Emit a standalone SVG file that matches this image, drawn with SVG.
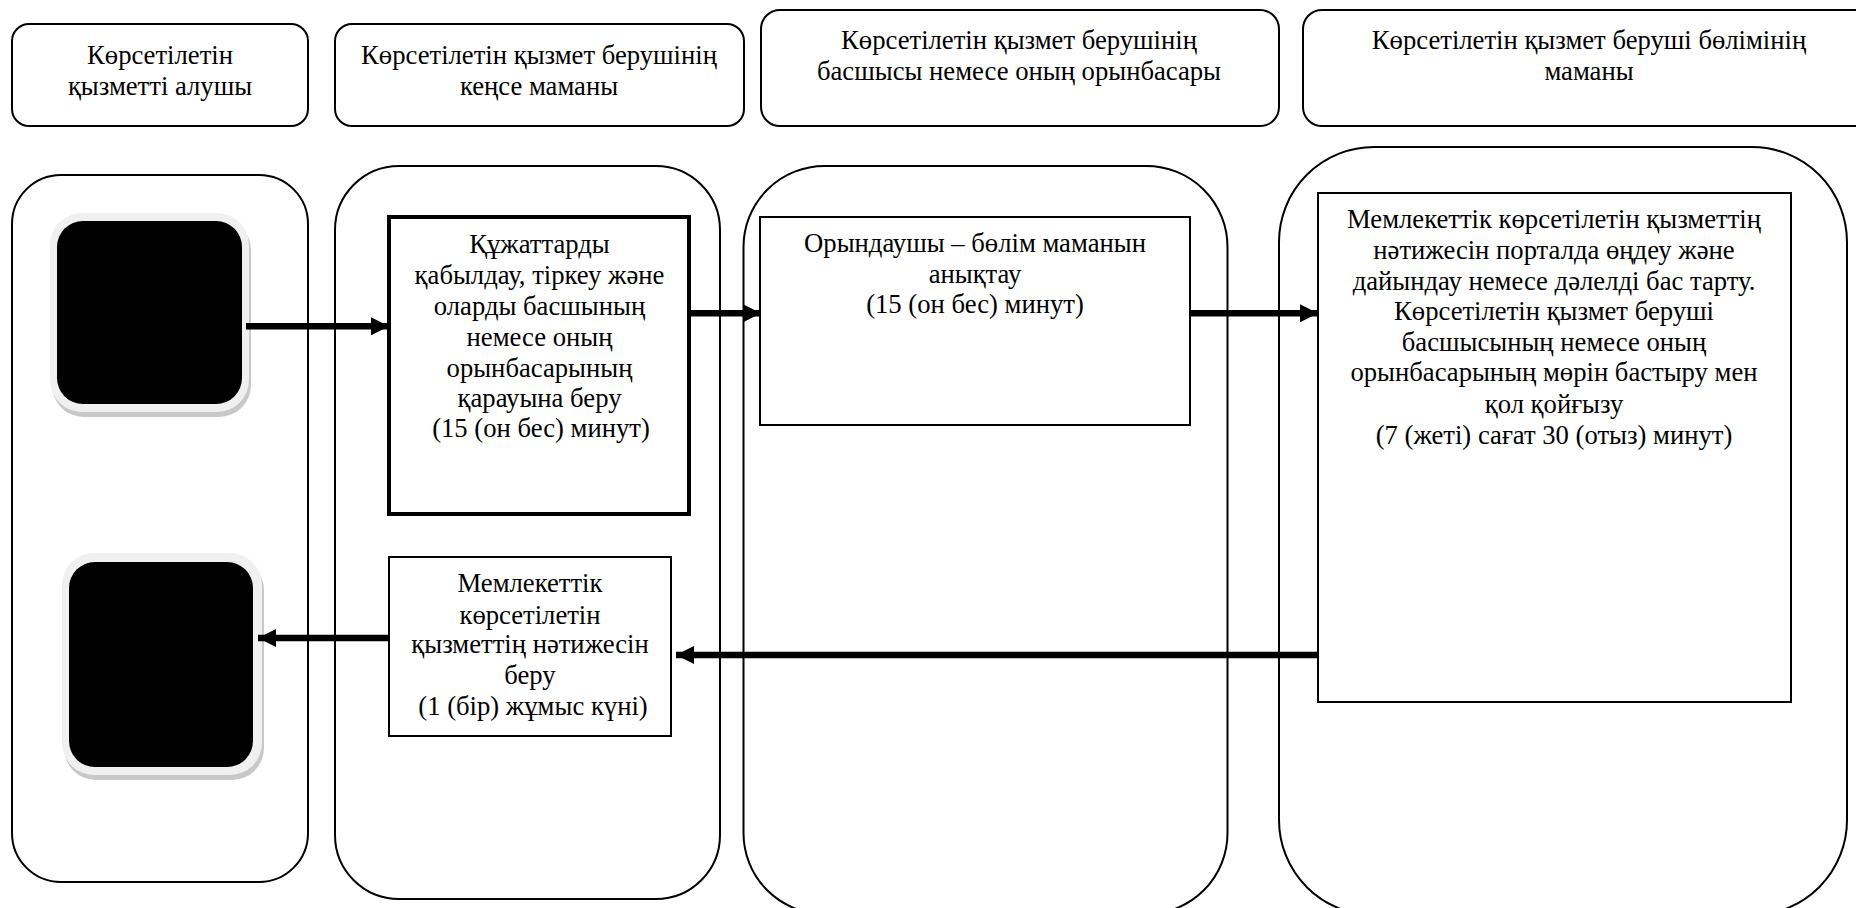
<svg xmlns="http://www.w3.org/2000/svg" width="1856" height="908" viewBox="0 0 1856 908">
<style>
.hd,.ln{fill:#fff;stroke:#000;stroke-width:2}
.b{fill:#fff;stroke:#000;stroke-width:2}
.bt{fill:#fff;stroke:#000;stroke-width:4}
text{font-family:"Liberation Serif","Times New Roman",serif;font-size:26.67px;fill:#000;text-anchor:middle}
.c{fill:none;stroke:#000;stroke-width:6.500}
</style>
<defs>
<marker id="ah" markerUnits="userSpaceOnUse" markerWidth="18" markerHeight="18" refX="18" refY="9" orient="auto"><path d="M0 0L18 9L0 18z" fill="#000"/></marker>
</defs>
<rect width="1856" height="908" fill="#fff"/>
<g id="header-1"><rect class="hd" x="12" y="24" width="296" height="102" rx="17"/><text x="160"><tspan x="160" y="64">Көрсетілетін</tspan><tspan x="160" y="94.500">қызметті алушы</tspan></text></g>
<g id="header-2"><rect class="hd" x="335" y="24" width="409" height="102" rx="17"/><text><tspan x="539" y="64">Көрсетілетін қызмет берушінің</tspan><tspan x="539" y="94.500">кеңсе маманы</tspan></text></g>
<g id="header-3"><rect class="hd" x="761" y="10" width="518" height="116" rx="19"/><text><tspan x="1019" y="49">Көрсетілетін қызмет берушінің</tspan><tspan x="1019" y="80">басшысы немесе оның орынбасары</tspan></text></g>
<g id="header-4"><rect class="hd" x="1303" y="10" width="600" height="116" rx="19"/><text><tspan x="1589" y="49">Көрсетілетін қызмет беруші бөлімінің</tspan><tspan x="1589" y="80">маманы</tspan></text></g>
<g id="lane-1"><rect class="ln" x="12" y="175" width="296" height="707" rx="49"/></g>
<g id="lane-2"><rect class="ln" x="335" y="166" width="385" height="733" rx="64"/></g>
<g id="lane-3"><rect class="ln" x="743.500" y="166" width="484" height="748" rx="81"/></g>
<g id="lane-4"><rect class="ln" x="1279" y="147" width="568" height="768" rx="95"/></g>
<g id="start">
<rect x="52" y="218" width="199" height="199" rx="32" fill="#c8c8c8"/>
<rect x="50" y="213" width="199" height="199" rx="32" fill="#f0f0f0"/>
<rect x="57" y="221" width="185" height="183" rx="26" fill="#000"/>
</g>
<g id="end">
<rect x="64" y="558" width="200" height="222" rx="32" fill="#c8c8c8"/>
<rect x="62" y="553" width="200" height="222" rx="32" fill="#f0f0f0"/>
<rect x="69" y="562" width="184" height="205" rx="26" fill="#000"/>
</g>
<g id="box-receive"><rect class="bt" x="389" y="217" width="300" height="297"/><text><tspan x="539.500" y="253">Құжаттарды</tspan><tspan x="539.500" y="284">қабылдау, тіркеу және</tspan><tspan x="539.500" y="314.500">оларды басшының</tspan><tspan x="539.500" y="345.500">немесе оның</tspan><tspan x="539.500" y="376.500">орынбасарының</tspan><tspan x="539.500" y="407">қарауына беру</tspan><tspan x="541" y="437">(15 (он бес) минут)</tspan></text></g>
<g id="box-assign"><rect class="b" x="760" y="217" width="430" height="208"/><text><tspan x="975" y="252">Орындаушы – бөлім маманын</tspan><tspan x="975" y="283">анықтау</tspan><tspan x="975" y="313">(15 (он бес) минут)</tspan></text></g>
<g id="box-process"><rect class="b" x="1318" y="193" width="473" height="509"/><text><tspan x="1554" y="228">Мемлекеттік көрсетілетін қызметтің</tspan><tspan x="1554" y="259">нәтижесін порталда өңдеу және</tspan><tspan x="1554" y="290">дайындау немесе дәлелді бас тарту.</tspan><tspan x="1554" y="320">Көрсетілетін қызмет беруші</tspan><tspan x="1554" y="351">басшысының немесе оның</tspan><tspan x="1554" y="381">орынбасарының мөрін бастыру мен</tspan><tspan x="1554" y="413">қол қойғызу</tspan><tspan x="1554" y="444">(7 (жеті) сағат 30 (отыз) минут)</tspan></text></g>
<g id="box-result"><rect class="b" x="389" y="557" width="282" height="179"/><text><tspan x="530" y="592">Мемлекеттік</tspan><tspan x="530" y="624">көрсетілетін</tspan><tspan x="530" y="653">қызметтің нәтижесін</tspan><tspan x="530" y="684">беру</tspan><tspan x="533" y="715">(1 (бір) жұмыс күні)</tspan></text></g>
<g id="connectors">
<path class="c" marker-end="url(#ah)" d="M246 326.300H389"/>
<path class="c" marker-end="url(#ah)" d="M689 313.300H761"/>
<path class="c" marker-end="url(#ah)" d="M1190.500 313.300H1318"/>
<path class="c" marker-end="url(#ah)" d="M389 638H258"/>
<path class="c" marker-end="url(#ah)" d="M1318 655H676"/>
</g>
</svg>
